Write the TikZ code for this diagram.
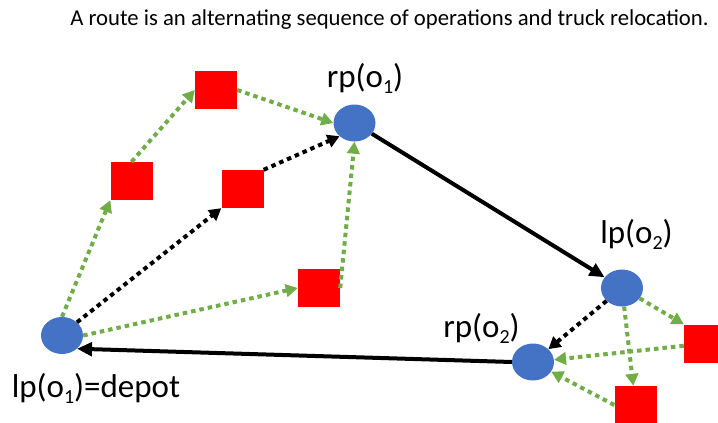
\documentclass[tikz,border=0pt]{standalone}
\usepackage{fontspec}
\setmainfont{Carlito}
\usetikzlibrary{arrows.meta,shapes.geometric}
\definecolor{stopblue}{HTML}{4472C4}
\definecolor{opred}{HTML}{FF0000}
\definecolor{movegreen}{HTML}{70AD47}
% lowered small index inside the large labels
\newcommand{\lsub}[1]{\raisebox{-6.5pt}{\fontsize{20}{20}\selectfont #1}}

\begin{document}
\begin{tikzpicture}[x=1pt,y=-1pt,
  stop/.style={ellipse, fill=stopblue, minimum width=42pt, minimum height=37pt, inner sep=0pt},
  opbox/.style={rectangle, fill=opred, minimum width=42pt, minimum height=38pt, inner sep=0pt},
  lbl/.style={font=\fontsize{33}{36}\selectfont, anchor=base, inner sep=0pt},
  visit/.style={draw=movegreen, line width=4pt, dash pattern=on 4.5pt off 4pt,
    -{Triangle[length=12pt,width=12.5pt]}},
  hop/.style={draw=black, line width=4pt, dash pattern=on 4.5pt off 4pt,
    -{Triangle[length=12pt,width=13pt]}},
  relocate/.style={draw=black, line width=4pt, -{Triangle[length=15pt,width=13.5pt]}}
]
\useasboundingbox (0,0) rectangle (718,423);
\clip (0,0) rectangle (718,423);

% title
\node[font=\fontsize{22.7}{26}\selectfont, anchor=base, inner sep=0pt] (title) at (389.5,25.7)
  {A route is an alternating sequence of operations and truck relocation.};

% pickup / delivery points
\node[stop] (dep) at (62,335.5) {};
\node[stop] (rp1) at (354.5,123) {};
\node[stop] (lp2) at (622,288) {};
\node[stop] (rp2) at (533,362) {};

% operations
\node[opbox] (A) at (216,90) {};
\node[opbox] (B) at (131.5,181) {};
\node[opbox] (C) at (242.5,189) {};
\node[opbox] (D) at (319,288) {};
\node[opbox] (E) at (705,343.5) {};
\node[opbox] (F) at (635.5,405) {};

% labels
\node[lbl] (l1) at (365,87) {rp(o\lsub{1})};
\node[lbl] (l2) at (636.5,243) {lp(o\lsub{2})};
\node[lbl] (l3) at (481.5,337) {rp(o\lsub{2})};
\node[lbl] (l4) at (96,397) {lp(o\lsub{1})=depot};

% first order
\draw[visit] (dep.north) -- (B.south west);
\draw[visit] (B.north) -- (A.west);
\draw[visit] (A.east) -- (rp1.west);
\draw[hop] (dep.north east) -- (C.south west);
\draw[hop] (C.north east) -- (rp1.south west);
\draw[visit] (dep.east) -- (D.west);
\draw[visit] (D.east) -- (rp1.south);

% truck relocation
\draw[relocate] (rp1) -- (lp2);

% second order
\draw[hop] (lp2) -- (rp2);
\draw[visit] (lp2) -- (E.north west);
\draw[visit] (lp2) -- (F);
\draw[visit] (E) -- (rp2);
\draw[visit] (F.west) -- (rp2);

% back to the depot
\draw[relocate] (rp2.west) -- (dep.south east);
\end{tikzpicture}
\end{document}
